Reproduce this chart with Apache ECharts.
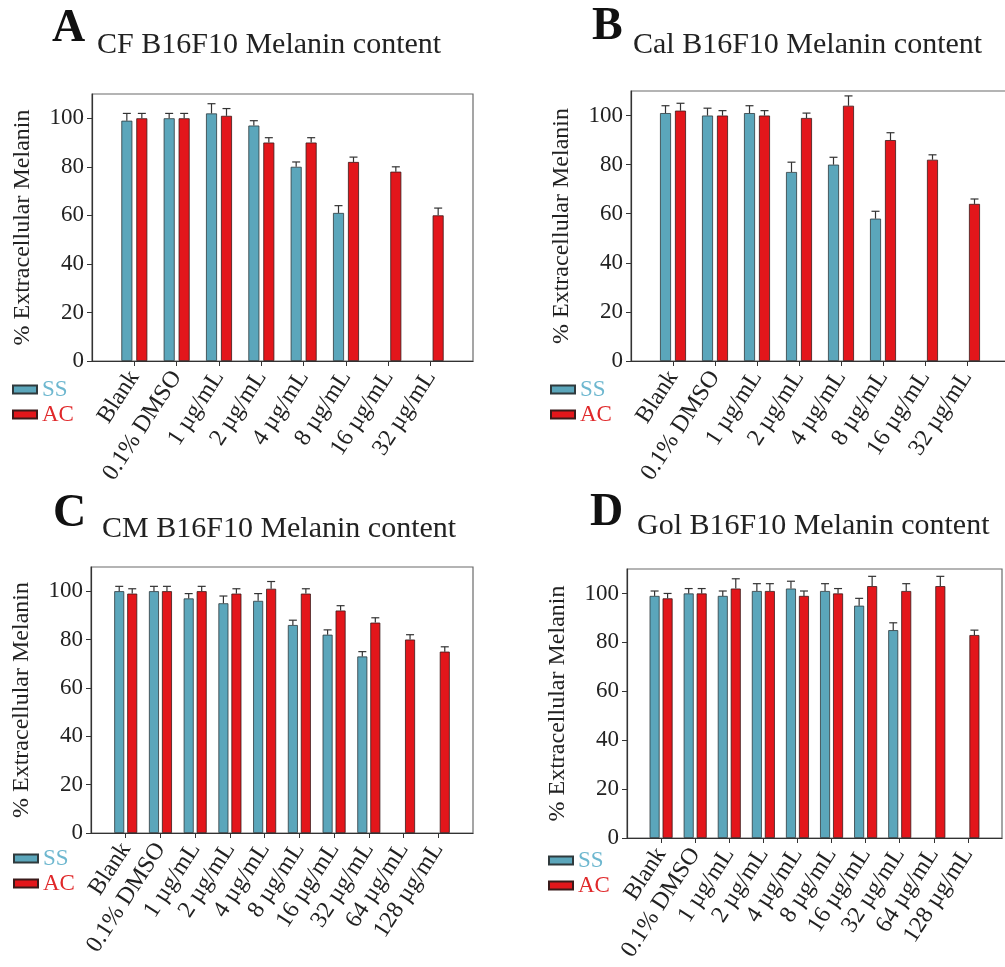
<!DOCTYPE html>
<html><head><meta charset="utf-8">
<script src="https://cdn.jsdelivr.net/npm/echarts@6/dist/echarts.min.js"></script>
<style>html,body{margin:0;padding:0;background:#fff}#c{width:1005px;height:967px}</style>
</head><body><div id="c"></div><script>
// ---- data ----
const catsAB = ['Blank', '0.1% DMSO', '1 µg/mL', '2 µg/mL', '4 µg/mL', '8 µg/mL', '16 µg/mL', '32 µg/mL'];
const catsCD = ['Blank', '0.1% DMSO', '1 µg/mL', '2 µg/mL', '4 µg/mL', '8 µg/mL', '16 µg/mL', '32 µg/mL', '64 µg/mL', '128 µg/mL'];
const yTicks = [0, 20, 40, 60, 80, 100];
const seriesNames = ['SS', 'AC'];

const panelLetters = ['A', 'B', 'C', 'D'];
const panelTitles = ['CF B16F10 Melanin content', 'Cal B16F10 Melanin content', 'CM B16F10 Melanin content', 'Gol B16F10 Melanin content'];
const yName = '% Extracellular Melanin';

const A_SS = [99, 100, 102, 97, 80, 61, null, null];
const A_SS_err = [3, 2, 4, 2, 2, 3, null, null];
const A_AC = [100, 100, 101, 90, 90, 82, 78, 60];
const A_AC_err = [2, 2, 3, 2, 2, 2, 2, 3];

const B_SS = [101, 100, 101, 77, 80, 58, null, null];
const B_SS_err = [3, 3, 3, 4, 3, 3, null, null];
const B_AC = [102, 100, 100, 99, 104, 90, 82, 64];
const B_AC_err = [3, 2, 2, 2, 4, 3, 2, 2];

const C_SS = [100, 100, 97, 95, 96, 86, 82, 73, null, null];
const C_SS_err = [2, 2, 2, 3, 3, 2, 2, 2, null, null];
const C_AC = [99, 100, 100, 99, 101, 99, 92, 87, 80, 75];
const C_AC_err = [2, 2, 2, 2, 3, 2, 2, 2, 2, 2];

const D_SS = [99, 100, 99, 101, 102, 101, 95, 85, null, null];
const D_SS_err = [2, 2, 2, 3, 3, 3, 3, 3, null, null];
const D_AC = [98, 100, 102, 101, 99, 100, 103, 101, 103, 83];
const D_AC_err = [2, 2, 4, 3, 2, 2, 4, 3, 4, 2];

// ---- layout / style ----
const FONT = '"Liberation Serif", "Times New Roman", serif';
const SS_COLOR = '#5ba6bb', AC_COLOR = '#e3161b';
const SS_TEXT = '#6db7cf', AC_TEXT = '#e0292b';

const panels = [
  { cats: catsAB, ss: A_SS, sse: A_SS_err, ac: A_AC, ace: A_AC_err,
    grid: { left: 92, top: 94, width: 381, height: 267 }, bw: 11, gap: 4,
    letterPos: [52, 6], titlePos: [97, 30], legendPos: [12, 378] },
  { cats: catsAB, ss: B_SS, sse: B_SS_err, ac: B_AC, ace: B_AC_err,
    grid: { left: 631, top: 91, width: 378, height: 270 }, bw: 11, gap: 4,
    letterPos: [592, 4], titlePos: [633, 30], legendPos: [550, 378] },
  { cats: catsCD, ss: C_SS, sse: C_SS_err, ac: C_AC, ace: C_AC_err,
    grid: { left: 91, top: 567, width: 382, height: 266 }, bw: 10, gap: 3,
    letterPos: [53, 491], titlePos: [102, 514], legendPos: [13, 847] },
  { cats: catsCD, ss: D_SS, sse: D_SS_err, ac: D_AC, ace: D_AC_err,
    grid: { left: 627, top: 569, width: 375, height: 269 }, bw: 10, gap: 3,
    letterPos: [590, 490], titlePos: [637, 511], legendPos: [548, 849] }
];

function errRender(offset, capHalf) {
  return function (params, api) {
    const x = api.value(0), v = api.value(1), e = api.value(2);
    const p0 = api.coord([x, v]);
    const p1 = api.coord([x, v + e]);
    const cx = p0[0] + offset;
    return { type: 'group', children: [
      { type: 'line', shape: { x1: cx, y1: p0[1], x2: cx, y2: p1[1] }, style: { stroke: '#333', lineWidth: 1.2 } },
      { type: 'line', shape: { x1: cx - capHalf, y1: p1[1], x2: cx + capHalf, y2: p1[1] }, style: { stroke: '#333', lineWidth: 1.2 } }
    ]};
  };
}

const option = { animation: false, backgroundColor: '#fff',
  title: [], grid: [], xAxis: [], yAxis: [], series: [], legend: [] };

panels.forEach((p, i) => {
  option.title.push({ text: panelLetters[i], left: p.letterPos[0], top: p.letterPos[1], padding: 0,
    textStyle: { fontFamily: FONT, fontSize: 46, fontWeight: 'bold', color: '#111' } });
  option.title.push({ text: panelTitles[i], left: p.titlePos[0], top: p.titlePos[1], padding: 0,
    textStyle: { fontFamily: FONT, fontSize: 30, fontWeight: 'normal', color: '#222' } });

  option.grid.push(Object.assign({ show: true, borderColor: '#6a6a6a', borderWidth: 1.2, outerBoundsMode: 'none' }, p.grid));

  const padded = [''].concat(p.cats, ['']);
  const n = padded.length;
  option.xAxis.push({ type: 'category', gridIndex: i, data: padded, boundaryGap: false,
    axisLine: { lineStyle: { color: '#333', width: 1.2 } },
    axisTick: { inside: false, length: 5, lineStyle: { color: '#333' },
      interval: (idx) => idx > 0 && idx < n - 1 },
    axisLabel: { rotate: 57, margin: 12, fontFamily: FONT, fontSize: 24, color: '#222',
      interval: (idx) => idx > 0 && idx < n - 1 },
    splitLine: { show: false } });

  option.yAxis.push({ type: 'value', gridIndex: i, min: 0, max: 110,
    name: yName, nameLocation: 'middle', nameGap: 57, nameRotate: 90,
    nameTextStyle: { fontFamily: FONT, fontSize: 24, color: '#222' },
    axisLine: { show: true, lineStyle: { color: '#333', width: 1.2 } },
    axisTick: { show: true, length: 5, lineStyle: { color: '#333' }, customValues: yTicks },
    axisLabel: { fontFamily: FONT, fontSize: 23, color: '#222', margin: 8, customValues: yTicks },
    splitLine: { show: false } });

  const pad = (arr) => ['-'].concat(arr.map(v => v == null ? '-' : v), ['-']);
  const off = (p.bw + p.gap) / 2;
  const barCommon = { type: 'bar', xAxisIndex: i, yAxisIndex: i, barWidth: p.bw,
    barGap: (p.gap / p.bw * 100).toFixed(0) + '%' };
  option.series.push(Object.assign({}, barCommon, { name: seriesNames[0], data: pad(p.ss),
    itemStyle: { color: SS_COLOR, borderColor: '#2f3a3d', borderWidth: 0.8 } }));
  option.series.push(Object.assign({}, barCommon, { name: seriesNames[1], data: pad(p.ac),
    itemStyle: { color: AC_COLOR, borderColor: '#3a1a1a', borderWidth: 0.8 } }));

  const errData = (vals, errs) => vals.map((v, k) => v == null ? null : [k + 1, v, errs[k]]).filter(d => d);
  option.series.push({ type: 'custom', xAxisIndex: i, yAxisIndex: i, z: 5,
    renderItem: errRender(-off, 4), encode: { x: 0, y: 1 }, data: errData(p.ss, p.sse) });
  option.series.push({ type: 'custom', xAxisIndex: i, yAxisIndex: i, z: 5,
    renderItem: errRender(off, 4), encode: { x: 0, y: 1 }, data: errData(p.ac, p.ace) });

  option.legend.push({ left: p.legendPos[0], top: p.legendPos[1], orient: 'vertical', padding: 0,
    itemWidth: 24, itemHeight: 8, itemGap: 2, icon: 'rect', selectedMode: false,
    textStyle: { fontFamily: FONT, fontSize: 23, lineHeight: 20 },
    data: [ { name: seriesNames[0], textStyle: { color: SS_TEXT } },
            { name: seriesNames[1], textStyle: { color: AC_TEXT } } ] });
});

const chart = echarts.init(document.getElementById('c'), null, { renderer: 'canvas' });
chart.setOption(option);
</script></body></html>
